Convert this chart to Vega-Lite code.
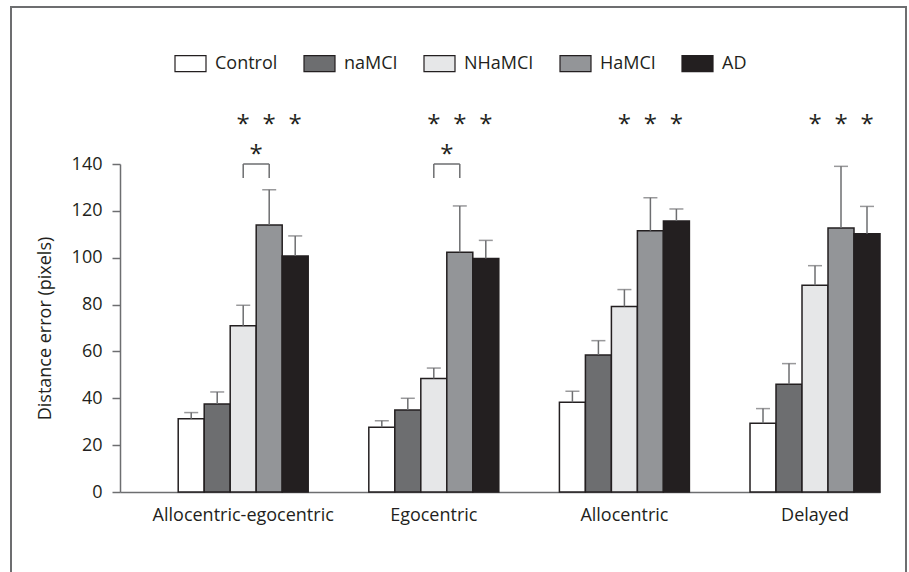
{
  "$schema": "https://vega.github.io/schema/vega-lite/v6.json",
  "width": 760,
  "height": 328,
  "autosize": {"type": "none"},
  "padding": {"left": 120, "top": 164, "right": 29, "bottom": 80},
  "background": "white",
  "config": {
    "view": {"stroke": null},
    "font": "Open Sans",
    "text": {"font": "Open Sans"}
  },
  "datasets": {
    "bars": [
      {"task": "Allocentric-egocentric", "group": "Control", "mean": 31.3, "upper": 33.9},
      {"task": "Allocentric-egocentric", "group": "naMCI", "mean": 37.6, "upper": 42.7},
      {"task": "Allocentric-egocentric", "group": "NHaMCI", "mean": 71.0, "upper": 79.7},
      {"task": "Allocentric-egocentric", "group": "HaMCI", "mean": 114.0, "upper": 129.0},
      {"task": "Allocentric-egocentric", "group": "AD", "mean": 100.7, "upper": 109.3},
      {"task": "Egocentric", "group": "Control", "mean": 27.6, "upper": 30.4},
      {"task": "Egocentric", "group": "naMCI", "mean": 35.0, "upper": 40.0},
      {"task": "Egocentric", "group": "NHaMCI", "mean": 48.4, "upper": 52.9},
      {"task": "Egocentric", "group": "HaMCI", "mean": 102.3, "upper": 122.1},
      {"task": "Egocentric", "group": "AD", "mean": 99.7, "upper": 107.4},
      {"task": "Allocentric", "group": "Control", "mean": 38.3, "upper": 43.0},
      {"task": "Allocentric", "group": "naMCI", "mean": 58.5, "upper": 64.6},
      {"task": "Allocentric", "group": "NHaMCI", "mean": 79.2, "upper": 86.4},
      {"task": "Allocentric", "group": "HaMCI", "mean": 111.5, "upper": 125.6},
      {"task": "Allocentric", "group": "AD", "mean": 115.7, "upper": 120.8},
      {"task": "Delayed", "group": "Control", "mean": 29.3, "upper": 35.6},
      {"task": "Delayed", "group": "naMCI", "mean": 46.0, "upper": 54.8},
      {"task": "Delayed", "group": "NHaMCI", "mean": 88.3, "upper": 96.6},
      {"task": "Delayed", "group": "HaMCI", "mean": 112.7, "upper": 139.0},
      {"task": "Delayed", "group": "AD", "mean": 110.2, "upper": 121.9}
    ],
    "stars": [
      {"task": "Allocentric-egocentric", "group": "NHaMCI"},
      {"task": "Allocentric-egocentric", "group": "HaMCI"},
      {"task": "Allocentric-egocentric", "group": "AD"},
      {"task": "Egocentric", "group": "NHaMCI"},
      {"task": "Egocentric", "group": "HaMCI"},
      {"task": "Egocentric", "group": "AD"},
      {"task": "Allocentric", "group": "NHaMCI"},
      {"task": "Allocentric", "group": "HaMCI"},
      {"task": "Allocentric", "group": "AD"},
      {"task": "Delayed", "group": "NHaMCI"},
      {"task": "Delayed", "group": "HaMCI"},
      {"task": "Delayed", "group": "AD"}
    ],
    "bracketEnds": [
      {"task": "Allocentric-egocentric", "group": "NHaMCI"},
      {"task": "Allocentric-egocentric", "group": "HaMCI"},
      {"task": "Egocentric", "group": "NHaMCI"},
      {"task": "Egocentric", "group": "HaMCI"}
    ],
    "pairs": [
      {"task": "Allocentric-egocentric", "group": "HaMCI"},
      {"task": "Egocentric", "group": "HaMCI"}
    ]
  },
  "encoding": {
    "x": {
      "field": "task",
      "type": "nominal",
      "sort": ["Allocentric-egocentric", "Egocentric", "Allocentric", "Delayed"],
      "scale": {
        "domain": ["Allocentric-egocentric", "Egocentric", "Allocentric", "Delayed"],
        "paddingInner": 0.318,
        "paddingOuter": 0.1527,
        "align": 1
      },
      "title": null,
      "axis": {
        "labelAngle": 0,
        "labelLimit": 0,
        "ticks": false,
        "tickSize": 0,
        "labelPadding": 14,
        "labelFontSize": 18,
        "labelFont": "Open Sans",
        "labelColor": "#231f20",
        "domainColor": "#6d6e70",
        "domainWidth": 1.5,
        "grid": false
      }
    },
    "xOffset": {
      "field": "group",
      "type": "nominal",
      "sort": ["Control", "naMCI", "NHaMCI", "HaMCI", "AD"],
      "scale": {
        "domain": ["Control", "naMCI", "NHaMCI", "HaMCI", "AD"],
        "paddingInner": 0,
        "paddingOuter": 0
      }
    }
  },
  "layer": [
    {
      "data": {"values": [{}]},
      "mark": {"type": "rect", "fill": null, "stroke": "#6d6e70", "strokeWidth": 2},
      "encoding": {
        "x": {"value": -109},
        "x2": {"value": 786},
        "y": {"value": -157},
        "y2": {"value": 430},
        "xOffset": null
      }
    },
    {
      "data": {"name": "bars"},
      "mark": {"type": "bar", "stroke": "#231f20", "strokeWidth": 1.5},
      "encoding": {
        "y": {
          "field": "mean",
          "type": "quantitative",
          "scale": {"domain": [0, 140], "nice": false},
          "title": "Distance error (pixels)",
          "axis": {
            "values": [0, 20, 40, 60, 80, 100, 120, 140],
            "grid": false,
            "tickSize": 8,
            "tickColor": "#6d6e70",
            "tickWidth": 1.5,
            "domainColor": "#6d6e70",
            "domainWidth": 1.5,
            "labelPadding": 10,
            "labelFontSize": 18,
            "labelFont": "Open Sans",
            "labelColor": "#231f20",
            "titleFont": "Open Sans",
            "titleFontSize": 18,
            "titleFontWeight": "normal",
            "titleColor": "#231f20",
            "titlePadding": 17
          }
        },
        "color": {
          "field": "group",
          "type": "nominal",
          "sort": ["Control", "naMCI", "NHaMCI", "HaMCI", "AD"],
          "scale": {
            "domain": ["Control", "naMCI", "NHaMCI", "HaMCI", "AD"],
            "range": ["#ffffff", "#6d6e70", "#e6e7e8", "#939598", "#231f20"]
          },
          "legend": {
            "title": null,
            "orient": "none",
            "legendX": 54,
            "legendY": -117,
            "direction": "horizontal",
            "symbolType": "M-1,-0.516H1V0.516H-1Z",
            "symbolSize": 961,
            "symbolStrokeColor": "#231f20",
            "symbolStrokeWidth": 1.2,
            "symbolOpacity": 1,
            "labelFontSize": 18,
            "labelFont": "Open Sans",
            "labelColor": "#231f20",
            "labelOffset": 8,
            "columnPadding": 23,
            "padding": 0
          }
        }
      }
    },
    {
      "data": {"name": "bars"},
      "mark": {"type": "rule", "color": "#6d6e70", "strokeWidth": 1.5},
      "encoding": {
        "y": {"field": "mean", "type": "quantitative"},
        "y2": {"field": "upper"}
      }
    },
    {
      "data": {"name": "bars"},
      "mark": {"type": "tick", "orient": "horizontal", "color": "#6d6e70", "size": 14, "thickness": 1.5},
      "encoding": {
        "y": {"field": "upper", "type": "quantitative"}
      }
    },
    {
      "data": {"name": "stars"},
      "mark": {"type": "text", "fontSize": 24, "color": "#231f20", "baseline": "middle", "dy": 3},
      "encoding": {
        "y": {"datum": 158},
        "text": {"value": "*"}
      }
    },
    {
      "data": {"name": "pairs"},
      "mark": {"type": "text", "fontSize": 24, "color": "#231f20", "baseline": "middle", "dy": 5, "dx": -13},
      "encoding": {
        "y": {"datum": 146},
        "text": {"value": "*"}
      }
    },
    {
      "data": {"name": "bracketEnds"},
      "mark": {"type": "rule", "color": "#6d6e70", "strokeWidth": 1.5},
      "encoding": {
        "y": {"datum": 134},
        "y2": {"datum": 140}
      }
    },
    {
      "data": {"name": "bracketEnds"},
      "mark": {"type": "line", "color": "#6d6e70", "strokeWidth": 1.5},
      "encoding": {
        "y": {"datum": 140},
        "detail": {"field": "task"}
      }
    }
  ]
}
